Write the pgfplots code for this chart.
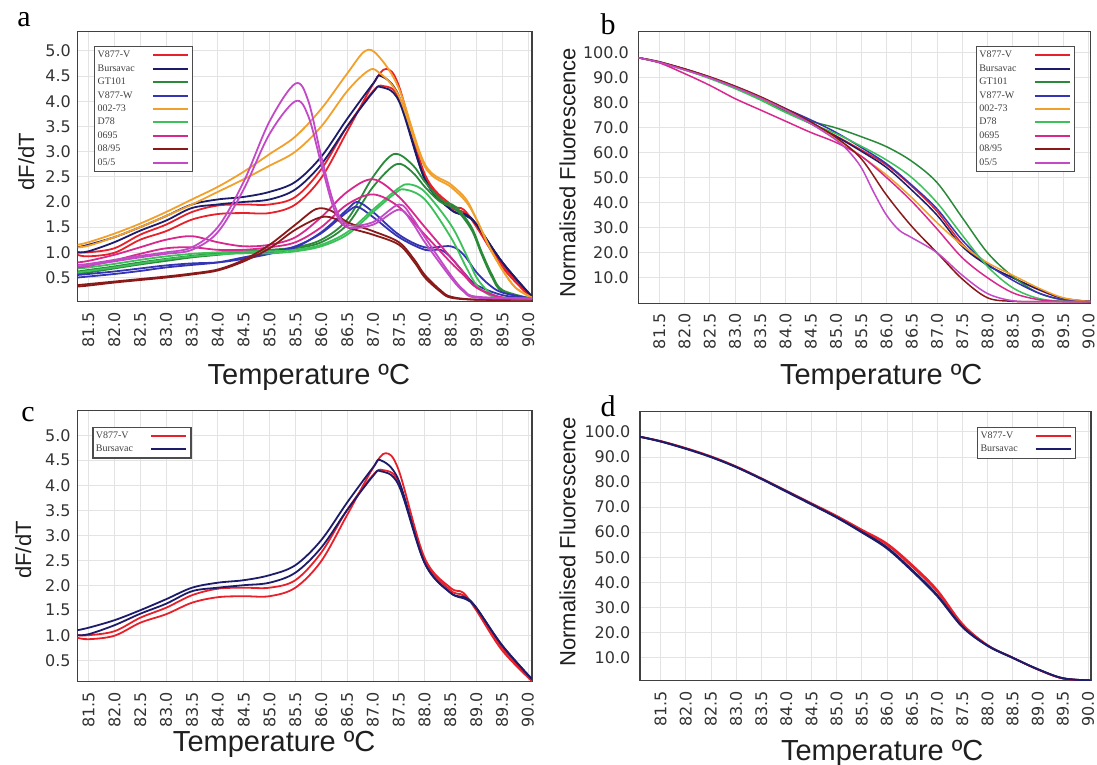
\documentclass[border=0pt]{standalone}
\usepackage{fontspec}
\setmainfont{Liberation Sans}
\newfontfamily\tickfamily{DejaVu Sans}
\newfontfamily\seriffamily{Liberation Serif}
\usepackage{pgfplots}
\pgfplotsset{compat=1.18}
\newcommand{\tickfont}{\tickfamily\fontsize{16}{16}\selectfont}
\newcommand{\xlabfont}{\fontsize{29}{29}\selectfont}
\newcommand{\ylabfont}{\fontsize{22}{22}\selectfont}
\newcommand{\legfont}{\seriffamily\fontsize{10}{10}\selectfont}
\definecolor{cVV}{HTML}{E8202A}
\definecolor{cBU}{HTML}{1C1C6B}
\definecolor{cGT}{HTML}{2A8A3A}
\definecolor{cVW}{HTML}{3434B4}
\definecolor{cOR}{HTML}{F2A02C}
\definecolor{cD7}{HTML}{3CC05A}
\definecolor{cPK}{HTML}{D8288E}
\definecolor{cDR}{HTML}{8A1A1A}
\definecolor{cVI}{HTML}{C24AC6}
\pgfplotsset{
  panel/.style={
    scale only axis, anchor=south west,
    axis line style={draw=black!75, line width=1.3pt},
    grid=major, major grid style={draw=black!11, line width=0.7pt},
    major tick length=0pt,
    /pgf/number format/assume math mode=true,
    xtick={81.5,82.0,82.5,83.0,83.5,84.0,84.5,85.0,85.5,86.0,86.5,87.0,87.5,88.0,88.5,89.0,89.5,90.0},
    xticklabel={\pgfmathprintnumber[fixed,fixed zerofill,precision=1]{\tick}},
    yticklabel={\pgfmathprintnumber[fixed,fixed zerofill,precision=1]{\tick}},
    xticklabel style={rotate=90, anchor=east, inner sep=0pt, font=\tickfont, text=black!80},
    yticklabel style={anchor=east, inner sep=0pt, font=\tickfont, text=black!80},
    xticklabel shift=10pt, yticklabel shift=6.5pt,
    xlabel={Temperature ºC},
    xlabel style={anchor=base, font=\xlabfont, text=black!88},
    ylabel style={anchor=center, font=\ylabfont, text=black!88},
    legend plot pos=right, legend cell align=left,
    legend style={anchor=north west, draw=black!70, line width=1.2pt, fill=white, font=\legfont,
      inner xsep=1pt, inner ysep=2pt, column sep=15pt, row sep=0pt,
      nodes={inner xsep=2pt, inner ysep=2.2pt, text height=7pt, text depth=2pt, text=black!75}},
    legend image code/.code={\draw[#1, line width=2pt] (0pt,0pt) -- (35pt,0pt); \path (38pt,0pt);},
  },
  crv/.style={draw=#1, smooth, tension=0.55, line width=1.8pt, mark=none},
  crvb/.style={draw=#1, smooth, tension=0.55, line width=1.5pt, mark=none},
}
\begin{document}
\begin{tikzpicture}
\path[use as bounding box] (0pt,0pt) rectangle (1097pt,764pt);
\node[font=\seriffamily\fontsize{30}{30}\selectfont] at (24pt,744pt) {a};
\node[font=\seriffamily\fontsize{30}{30}\selectfont] at (608pt,740pt) {b};
\node[font=\seriffamily\fontsize{30}{30}\selectfont] at (28pt,349pt) {c};
\node[font=\seriffamily\fontsize{30}{30}\selectfont] at (608pt,358pt) {d};

% ---------------- panel a ----------------
\begin{axis}[panel, at={(77.5pt,462.3pt)}, width=454.5pt, height=270pt,
  xmin=81.29, xmax=90.07, ymin=0.02, ymax=5.38,
  ytick={0.5,1.0,1.5,2.0,2.5,3.0,3.5,4.0,4.5,5.0},
  ylabel={dF/dT},
  xlabel style={at={(axis description cs:0.509,-0.3085)}},
  ylabel style={at={(axis description cs:-0.113,0.519)}},
  legend style={at={(axis description cs:0.0363,0.947)}}]
% V877-V
\addplot[crv=cVV] coordinates {(81.29,0.95) (81.5,0.92) (82.0,0.99) (82.5,1.25) (83.0,1.42) (83.5,1.65) (84.0,1.76) (84.5,1.78) (85.0,1.78) (85.5,1.95) (86.0,2.48) (86.5,3.4) (87.0,4.34) (87.25,4.64) (87.5,4.3) (88.0,2.55) (88.5,1.95) (88.75,1.85) (89.0,1.5) (89.5,0.7) (90.07,0.08)};
\addlegendentry{V877-V}
\addplot[crv=cVV, forget plot] coordinates {(81.29,1.0) (81.5,1.0) (82.0,1.08) (82.5,1.35) (83.0,1.55) (83.5,1.8) (84.0,1.93) (84.5,1.95) (85.0,1.95) (85.5,2.1) (86.0,2.65) (86.5,3.5) (87.0,4.2) (87.2,4.3) (87.5,4.05) (88.0,2.5) (88.5,1.9) (88.75,1.8) (89.0,1.55) (89.5,0.75) (90.07,0.1)};
% Bursavac
\addplot[crv=cBU] coordinates {(81.29,1.1) (81.5,1.15) (82.0,1.3) (82.5,1.5) (83.0,1.72) (83.5,1.95) (84.0,2.05) (84.5,2.1) (85.0,2.2) (85.5,2.4) (86.0,2.9) (86.5,3.65) (87.0,4.35) (87.15,4.5) (87.5,4.1) (88.0,2.45) (88.5,1.85) (88.8,1.75) (89.0,1.55) (89.5,0.8) (90.07,0.12)};
\addlegendentry{Bursavac}
\addplot[crv=cBU, forget plot] coordinates {(81.29,1.0) (81.5,1.02) (82.0,1.2) (82.5,1.43) (83.0,1.63) (83.5,1.88) (84.0,1.95) (84.5,2.0) (85.0,2.05) (85.5,2.25) (86.0,2.75) (86.5,3.5) (87.0,4.18) (87.15,4.28) (87.5,4.0) (88.0,2.45) (88.5,1.85) (88.8,1.72) (89.0,1.55) (89.5,0.8) (90.07,0.12)};
% GT101
\addplot[crv=cGT] coordinates {(81.29,0.62) (81.5,0.65) (82.0,0.72) (82.5,0.8) (83.0,0.87) (83.5,0.93) (84.0,0.98) (84.5,1.02) (85.0,1.05) (85.5,1.1) (86.0,1.25) (86.5,1.65) (87.0,2.5) (87.4,2.95) (87.75,2.75) (88.0,2.4) (88.3,2.05) (88.6,1.9) (88.9,1.5) (89.1,1.0) (89.3,0.55) (89.5,0.25) (90.07,0.08)};
\addlegendentry{GT101}
\addplot[crv=cGT, forget plot] coordinates {(81.29,0.58) (81.5,0.6) (82.0,0.68) (82.5,0.76) (83.0,0.83) (83.5,0.9) (84.0,0.95) (84.5,1.0) (85.0,1.03) (85.5,1.08) (86.0,1.2) (86.5,1.55) (87.0,2.3) (87.45,2.75) (87.75,2.6) (88.0,2.3) (88.3,2.0) (88.6,1.85) (88.9,1.45) (89.1,0.95) (89.3,0.5) (89.5,0.22) (90.07,0.08)};
% V877-W
\addplot[crv=cVW] coordinates {(81.29,0.55) (81.5,0.57) (82.0,0.62) (82.5,0.68) (83.0,0.74) (83.5,0.78) (84.0,0.8) (84.5,0.87) (85.0,0.97) (85.5,1.1) (86.0,1.4) (86.5,1.85) (86.7,2.0) (87.0,1.8) (87.5,1.35) (88.0,1.1) (88.5,1.12) (88.75,0.95) (89.0,0.6) (89.25,0.35) (89.5,0.2) (90.07,0.08)};
\addlegendentry{V877-W}
\addplot[crv=cVW, forget plot] coordinates {(81.29,0.5) (81.5,0.52) (82.0,0.57) (82.5,0.63) (83.0,0.7) (83.5,0.75) (84.0,0.8) (84.5,0.9) (85.0,1.0) (85.5,1.12) (86.0,1.38) (86.5,1.8) (86.7,1.9) (87.0,1.7) (87.5,1.3) (88.0,1.05) (88.3,1.05) (88.5,0.9) (88.75,0.6) (89.0,0.35) (89.5,0.15) (90.07,0.08)};
% 002-73
\addplot[crv=cOR] coordinates {(81.29,1.15) (81.5,1.2) (82.0,1.37) (82.5,1.57) (83.0,1.8) (83.5,2.05) (84.0,2.3) (84.5,2.6) (85.0,2.95) (85.5,3.3) (86.0,3.85) (86.5,4.55) (86.85,5.0) (87.1,4.9) (87.5,4.25) (88.0,2.75) (88.5,2.35) (88.8,2.05) (89.0,1.65) (89.25,1.1) (89.5,0.65) (89.75,0.3) (90.07,0.1)};
\addlegendentry{002-73}
\addplot[crv=cOR, forget plot] coordinates {(81.29,1.1) (81.5,1.13) (82.0,1.3) (82.5,1.5) (83.0,1.72) (83.5,1.95) (84.0,2.2) (84.5,2.45) (85.0,2.72) (85.5,3.0) (86.0,3.5) (86.5,4.2) (86.9,4.6) (87.1,4.58) (87.5,4.1) (88.0,2.7) (88.5,2.3) (88.8,2.0) (89.0,1.65) (89.25,1.1) (89.5,0.65) (89.75,0.3) (90.07,0.1)};
% D78
\addplot[crv=cD7] coordinates {(81.29,0.68) (81.5,0.7) (82.0,0.77) (82.5,0.85) (83.0,0.92) (83.5,0.97) (84.0,1.0) (84.5,1.02) (85.0,1.02) (85.5,1.05) (86.0,1.15) (86.5,1.4) (87.0,1.85) (87.5,2.28) (87.7,2.35) (88.0,2.2) (88.5,1.55) (88.8,0.95) (89.0,0.5) (89.25,0.2) (89.5,0.1) (90.07,0.08)};
\addlegendentry{D78}
\addplot[crv=cD7, forget plot] coordinates {(81.29,0.6) (81.5,0.63) (82.0,0.7) (82.5,0.78) (83.0,0.86) (83.5,0.92) (84.0,0.96) (84.5,0.98) (85.0,0.98) (85.5,1.02) (86.0,1.12) (86.5,1.35) (87.0,1.8) (87.4,2.15) (87.6,2.25) (88.0,2.05) (88.5,1.3) (88.8,0.7) (89.0,0.35) (89.25,0.15) (89.5,0.1) (90.07,0.08)};
% 0695
\addplot[crv=cPK] coordinates {(81.29,0.8) (81.5,0.83) (82.0,0.95) (82.5,1.1) (83.0,1.25) (83.5,1.32) (84.0,1.2) (84.5,1.12) (85.0,1.15) (85.5,1.3) (86.0,1.7) (86.5,2.2) (87.0,2.45) (87.5,2.1) (88.0,1.5) (88.5,0.9) (88.75,0.6) (89.0,0.3) (89.5,0.1) (90.07,0.08)};
\addlegendentry{0695}
\addplot[crv=cPK, forget plot] coordinates {(81.29,0.7) (81.5,0.73) (82.0,0.84) (82.5,0.97) (83.0,1.08) (83.5,1.1) (84.0,1.05) (84.5,1.05) (85.0,1.1) (85.5,1.2) (86.0,1.5) (86.5,1.95) (87.0,2.15) (87.5,1.9) (88.0,1.35) (88.5,0.8) (88.75,0.55) (89.0,0.3) (89.5,0.1) (90.07,0.08)};
% 08/95
\addplot[crv=cDR] coordinates {(81.29,0.35) (81.5,0.37) (82.0,0.42) (82.5,0.47) (83.0,0.52) (83.5,0.58) (84.0,0.66) (84.5,0.85) (85.0,1.15) (85.5,1.55) (85.9,1.86) (86.2,1.82) (86.5,1.6) (87.0,1.42) (87.5,1.2) (87.8,0.85) (88.0,0.55) (88.3,0.25) (88.5,0.12) (89.0,0.06) (90.07,0.06)};
\addlegendentry{08/95}
\addplot[crv=cDR, forget plot] coordinates {(81.29,0.32) (81.5,0.34) (82.0,0.4) (82.5,0.45) (83.0,0.5) (83.5,0.56) (84.0,0.64) (84.5,0.82) (85.0,1.08) (85.5,1.45) (86.0,1.7) (86.3,1.65) (86.5,1.5) (87.0,1.35) (87.5,1.15) (87.8,0.8) (88.0,0.5) (88.3,0.22) (88.5,0.1) (89.0,0.06) (90.07,0.06)};
% 05/5
\addplot[crv=cVI] coordinates {(81.29,0.75) (81.5,0.77) (82.0,0.85) (82.5,0.93) (83.0,1.0) (83.5,1.1) (84.0,1.5) (84.5,2.4) (85.0,3.6) (85.5,4.35) (85.75,4.0) (86.0,2.9) (86.25,1.95) (86.5,1.55) (87.0,1.6) (87.5,1.95) (87.75,1.7) (88.0,1.3) (88.5,0.55) (88.75,0.25) (89.0,0.12) (90.07,0.08)};
\addlegendentry{05/5}
\addplot[crv=cVI, forget plot] coordinates {(81.29,0.72) (81.5,0.74) (82.0,0.82) (82.5,0.9) (83.0,0.97) (83.5,1.05) (84.0,1.4) (84.5,2.25) (85.0,3.35) (85.5,4.0) (85.75,3.7) (86.0,2.75) (86.25,1.85) (86.5,1.5) (87.0,1.55) (87.5,1.85) (87.75,1.6) (88.0,1.2) (88.5,0.5) (88.75,0.22) (89.0,0.1) (90.07,0.08)};
\end{axis}

% ---------------- panel b ----------------
\begin{axis}[panel, at={(638.5pt,460.7pt)}, width=452pt, height=271.6pt,
  xmin=81.09, xmax=90.04, ymin=-0.2, ymax=108.2,
  ytick={10,20,30,40,50,60,70,80,90,100},
  ylabel={Normalised Fluorescence},
  yticklabel shift=9.5pt,
  xlabel style={at={(axis description cs:0.537,-0.30)}},
  ylabel style={at={(axis description cs:-0.157,0.480)}},
  legend style={at={(axis description cs:0.746,0.947)}}]
\addplot[crvb=cVV] coordinates {(81.09,97.8) (81.5,96.0) (82.0,93.3) (82.5,90.0) (83.0,86.2) (83.5,81.6) (84.0,76.6) (84.5,71.6) (85.0,66.6) (85.5,61.0) (86.0,55.0) (86.5,46.5) (87.0,36.5) (87.5,23.5) (88.0,15.2) (88.5,10.0) (89.0,5.3) (89.5,1.7) (90.04,0.5)};
\addlegendentry{V877-V}
\addplot[crvb=cBU] coordinates {(81.09,97.8) (81.5,96.0) (82.0,93.3) (82.5,90.0) (83.0,86.2) (83.5,81.6) (84.0,76.6) (84.5,71.6) (85.0,66.4) (85.5,60.5) (86.0,54.0) (86.5,45.0) (87.0,35.0) (87.5,22.5) (88.0,15.0) (88.5,10.0) (89.0,5.5) (89.5,1.8) (90.04,0.5)};
\addlegendentry{Bursavac}
\addplot[crvb=cGT] coordinates {(81.09,97.8) (81.5,96.2) (82.0,93.2) (82.5,90.0) (83.0,86.0) (83.5,81.3) (84.0,76.2) (84.5,72.5) (85.0,69.8) (85.5,66.3) (86.0,62.3) (86.5,56.5) (87.0,48.0) (87.5,34.0) (88.0,20.0) (88.5,10.5) (89.0,4.0) (89.5,1.2) (90.04,0.5)};
\addlegendentry{GT101}
\addplot[crvb=cVW] coordinates {(81.09,97.8) (81.5,96.0) (82.0,93.0) (82.5,89.8) (83.0,86.3) (83.5,82.0) (84.0,77.5) (84.5,73.0) (85.0,68.0) (85.5,62.0) (86.0,55.5) (86.5,47.0) (87.0,37.5) (87.5,25.0) (88.0,15.5) (88.5,9.0) (89.0,4.0) (89.5,1.2) (90.04,0.5)};
\addlegendentry{V877-W}
\addplot[crvb=cOR] coordinates {(81.09,97.8) (81.5,96.0) (82.0,93.0) (82.5,89.7) (83.0,86.0) (83.5,81.7) (84.0,77.0) (84.5,71.5) (85.0,65.5) (85.5,58.5) (86.0,51.0) (86.5,42.0) (87.0,32.0) (87.5,23.0) (88.0,16.0) (88.5,11.0) (89.0,6.0) (89.5,2.0) (90.04,0.5)};
\addlegendentry{002-73}
\addplot[crvb=cD7] coordinates {(81.09,97.8) (81.5,96.0) (82.0,93.0) (82.5,89.5) (83.0,85.5) (83.5,81.0) (84.0,76.0) (84.5,71.5) (85.0,67.5) (85.5,62.5) (86.0,57.0) (86.5,50.0) (87.0,40.0) (87.5,27.0) (88.0,14.5) (88.5,6.0) (89.0,1.8) (89.5,0.6) (90.04,0.5)};
\addlegendentry{D78}
\addplot[crvb=cPK] coordinates {(81.09,97.8) (81.5,95.8) (82.0,91.5) (82.5,86.8) (83.0,81.5) (83.5,77.0) (84.0,72.5) (84.5,68.0) (85.0,64.0) (85.5,58.5) (86.0,50.0) (86.5,40.5) (87.0,29.5) (87.5,18.0) (88.0,10.0) (88.5,4.0) (89.0,1.3) (89.5,0.5) (90.04,0.5)};
\addlegendentry{0695}
\addplot[crvb=cDR] coordinates {(81.09,97.8) (81.5,96.2) (82.0,93.4) (82.5,90.2) (83.0,86.5) (83.5,82.3) (84.0,77.5) (84.5,72.2) (85.0,66.0) (85.5,57.5) (86.0,43.0) (86.5,30.5) (87.0,20.0) (87.5,9.5) (88.0,2.0) (88.5,0.6) (89.0,0.5) (90.04,0.5)};
\addlegendentry{08/95}
\addplot[crvb=cVI] coordinates {(81.09,97.8) (81.5,96.0) (82.0,93.0) (82.5,89.8) (83.0,86.0) (83.5,81.8) (84.0,77.0) (84.5,71.5) (85.0,65.0) (85.25,60.5) (85.5,54.0) (85.75,44.0) (86.0,35.0) (86.25,29.0) (86.5,26.0) (87.0,20.0) (87.5,11.0) (88.0,3.7) (88.5,0.8) (89.0,0.5) (90.04,0.5)};
\addlegendentry{05/5}
\end{axis}

% ---------------- panel c ----------------
\begin{axis}[panel, at={(77.3pt,82.3pt)}, width=454.7pt, height=271pt,
  xmin=81.28, xmax=90.08, ymin=0.07, ymax=5.49,
  ytick={0.5,1.0,1.5,2.0,2.5,3.0,3.5,4.0,4.5,5.0},
  ylabel={dF/dT},
  xlabel style={at={(axis description cs:0.433,-0.258)}},
  ylabel style={at={(axis description cs:-0.119,0.486)}},
  legend style={at={(axis description cs:0.033,0.941)}}]
\addplot[crv=cVV] coordinates {(81.28,0.95) (81.5,0.92) (82.0,0.99) (82.5,1.25) (83.0,1.42) (83.5,1.65) (84.0,1.76) (84.5,1.78) (85.0,1.78) (85.5,1.95) (86.0,2.48) (86.5,3.4) (87.0,4.34) (87.25,4.64) (87.5,4.3) (88.0,2.55) (88.5,1.95) (88.75,1.85) (89.0,1.5) (89.5,0.7) (90.08,0.08)};
\addlegendentry{V877-V}
\addplot[crv=cVV, forget plot] coordinates {(81.28,1.0) (81.5,1.0) (82.0,1.08) (82.5,1.35) (83.0,1.55) (83.5,1.8) (84.0,1.93) (84.5,1.95) (85.0,1.95) (85.5,2.1) (86.0,2.65) (86.5,3.5) (87.0,4.2) (87.2,4.3) (87.5,4.05) (88.0,2.5) (88.5,1.9) (88.75,1.8) (89.0,1.55) (89.5,0.75) (90.08,0.1)};
\addplot[crv=cBU] coordinates {(81.28,1.1) (81.5,1.15) (82.0,1.3) (82.5,1.5) (83.0,1.72) (83.5,1.95) (84.0,2.05) (84.5,2.1) (85.0,2.2) (85.5,2.4) (86.0,2.9) (86.5,3.65) (87.0,4.35) (87.15,4.5) (87.5,4.1) (88.0,2.45) (88.5,1.85) (88.8,1.75) (89.0,1.55) (89.5,0.8) (90.08,0.12)};
\addlegendentry{Bursavac}
\addplot[crv=cBU, forget plot] coordinates {(81.28,1.0) (81.5,1.02) (82.0,1.2) (82.5,1.43) (83.0,1.63) (83.5,1.88) (84.0,1.95) (84.5,2.0) (85.0,2.05) (85.5,2.25) (86.0,2.75) (86.5,3.5) (87.0,4.18) (87.15,4.28) (87.5,4.0) (88.0,2.45) (88.5,1.85) (88.8,1.72) (89.0,1.55) (89.5,0.8) (90.08,0.12)};
\end{axis}

% ---------------- panel d ----------------
\begin{axis}[panel, at={(640pt,83.3pt)}, width=451pt, height=269pt,
  xmin=81.09, xmax=90.06, ymin=0.8, ymax=108,
  ytick={10,20,30,40,50,60,70,80,90,100},
  ylabel={Normalised Fluorescence},
  yticklabel shift=9.5pt,
  xlabel style={at={(axis description cs:0.537,-0.295)}},
  ylabel style={at={(axis description cs:-0.161,0.516)}},
  legend style={at={(axis description cs:0.747,0.944)}}]
\addplot[crv=cVV] coordinates {(81.09,98.0) (81.5,96.3) (82.0,93.5) (82.5,90.2) (83.0,86.2) (83.5,81.5) (84.0,76.5) (84.5,71.5) (85.0,66.5) (85.5,61.0) (86.0,55.5) (86.5,47.0) (87.0,37.0) (87.5,23.5) (88.0,15.0) (88.5,10.0) (89.0,5.3) (89.5,1.7) (90.06,0.9)};
\addlegendentry{V877-V}
\addplot[crv=cVV, forget plot] coordinates {(81.09,98.0) (81.5,96.2) (82.0,93.4) (82.5,90.1) (83.0,86.1) (83.5,81.4) (84.0,76.4) (84.5,71.4) (85.0,66.3) (85.5,60.7) (86.0,55.0) (86.5,46.3) (87.0,36.3) (87.5,23.2) (88.0,15.0) (88.5,10.0) (89.0,5.3) (89.5,1.7) (90.06,0.9)};
\addplot[crv=cBU] coordinates {(81.09,98.0) (81.5,96.2) (82.0,93.3) (82.5,90.0) (83.0,86.0) (83.5,81.3) (84.0,76.3) (84.5,71.2) (85.0,66.0) (85.5,60.2) (86.0,54.0) (86.5,45.0) (87.0,35.0) (87.5,22.5) (88.0,14.8) (88.5,10.0) (89.0,5.4) (89.5,1.8) (90.06,0.9)};
\addlegendentry{Bursavac}
\addplot[crv=cBU, forget plot] coordinates {(81.09,98.0) (81.5,96.1) (82.0,93.2) (82.5,89.9) (83.0,85.9) (83.5,81.2) (84.0,76.1) (84.5,71.0) (85.0,65.8) (85.5,59.9) (86.0,53.5) (86.5,44.5) (87.0,34.5) (87.5,22.2) (88.0,14.7) (88.5,9.9) (89.0,5.4) (89.5,1.8) (90.06,0.9)};
\end{axis}
\end{tikzpicture}
\end{document}
